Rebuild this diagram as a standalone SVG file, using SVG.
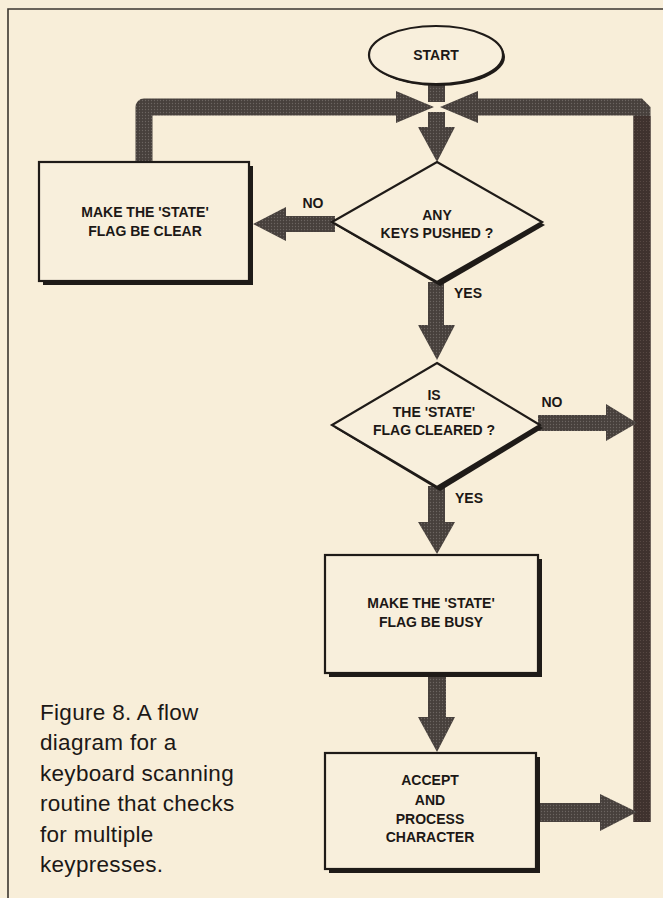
<svg xmlns="http://www.w3.org/2000/svg" width="663" height="898" viewBox="0 0 663 898">
<defs>
<pattern id="ht" width="3" height="3" patternUnits="userSpaceOnUse">
<rect width="3" height="3" fill="#47403c"/>
<circle cx="1.5" cy="1.5" r="0.65" fill="#6c6561"/>
</pattern>
<pattern id="htb" width="3" height="3" patternUnits="userSpaceOnUse">
<rect width="3" height="3" fill="#3f322e"/>
<circle cx="1.5" cy="1.5" r="0.55" fill="#5c4c47"/>
</pattern>
</defs>
<style>
.bg{fill:#f8eed9}
.frame{stroke:#3b3630;stroke-width:1.6;fill:none}
.ar{fill:url(#ht)}
.bar{fill:none;stroke:url(#ht);stroke-width:17}
.barb{fill:none;stroke:url(#htb);stroke-width:17}
.sh{fill:#1f1b18}
.nd{fill:#f8efdc;stroke:#1f1b18;stroke-width:2.2}
.t{font-family:"Liberation Sans",Arial,sans-serif;font-weight:bold;font-size:14px;fill:#1c1816;text-anchor:middle}
.cap{font-family:"Liberation Sans",Arial,sans-serif;font-size:22.5px;letter-spacing:0.3px;fill:#1c1816}
</style>
<rect class="bg" x="0" y="0" width="663" height="898"/>
<g id="frame">
<path class="frame" d="M663,9 H8 V898"/>
</g>
<g id="connectors">
<path class="bar" d="M144,162 V107 H398" stroke-linejoin="round"/>
<polygon class="ar" points="396,91 434,107 396,123"/>
<path class="bar" d="M642,822 V107 H476" stroke-linejoin="bevel"/>
<path class="barb" d="M642,822 V116"/>
<polygon class="ar" points="478,91 440,107 478,123"/>
<rect class="ar" x="428" y="82" width="17" height="20"/>
<rect class="ar" x="428" y="112" width="17" height="17"/>
<polygon class="ar" points="418,127 455,127 437,162"/>
<rect class="ar" x="283" y="216" width="52" height="16"/>
<polygon class="ar" points="286,207 253,224 286,241"/>
<text class="t" x="313" y="208">NO</text>
<rect class="ar" x="428" y="282" width="16" height="45"/>
<polygon class="ar" points="418,325 455,325 437,360"/>
<text class="t" x="468" y="298">YES</text>
<rect class="ar" x="538" y="415" width="70" height="16"/>
<polygon class="ar" points="606,404 637,423 606,441"/>
<text class="t" x="552" y="407">NO</text>
<rect class="ar" x="428" y="486" width="17" height="38"/>
<polygon class="ar" points="418,522 455,522 437,554"/>
<text class="t" x="469" y="503">YES</text>
<rect class="ar" x="428" y="675" width="18" height="44"/>
<polygon class="ar" points="418,717 455,717 437,752"/>
<rect class="ar" x="538" y="803" width="64" height="19"/>
<polygon class="ar" points="600,794 637,812 600,831"/>
</g>
<g id="start">
<ellipse class="sh" cx="438" cy="57" rx="67" ry="29"/>
<ellipse class="nd" cx="436" cy="55" rx="67" ry="29" stroke-width="2.5"/>
<text class="t" x="436" y="60">START</text>
</g>
<g id="clear">
<rect class="sh" x="43" y="166" width="210" height="119"/>
<rect class="nd" x="39" y="162" width="210" height="119"/>
<text class="t" x="145" y="217">MAKE THE 'STATE'</text>
<text class="t" x="145" y="236">FLAG BE CLEAR</text>
</g>
<g id="anykeys">
<polygon class="sh" points="440,165 545,225 440,286 335,225"/>
<polygon class="nd" points="437,162 542,222 437,282 332,222"/>
<text class="t" x="437" y="220">ANY</text>
<text class="t" x="437" y="238">KEYS PUSHED ?</text>
</g>
<g id="cleared">
<polygon class="sh" points="440,366 543,428 440,491 335,428"/>
<polygon class="nd" points="437,363 540,425 437,487 332,425"/>
<text class="t" x="434" y="400">IS</text>
<text class="t" x="434" y="417">THE 'STATE'</text>
<text class="t" x="434" y="435">FLAG CLEARED ?</text>
</g>
<g id="busy">
<rect class="sh" x="329" y="559" width="213" height="118"/>
<rect class="nd" x="325" y="555" width="213" height="118"/>
<text class="t" x="431" y="608">MAKE THE 'STATE'</text>
<text class="t" x="431" y="627">FLAG BE BUSY</text>
</g>
<g id="accept">
<rect class="sh" x="329" y="757" width="211" height="116"/>
<rect class="nd" x="325" y="753" width="211" height="116"/>
<text class="t" x="430" y="785">ACCEPT</text>
<text class="t" x="430" y="805">AND</text>
<text class="t" x="430" y="824">PROCESS</text>
<text class="t" x="430" y="842">CHARACTER</text>
</g>
<g id="caption">
<text class="cap" x="40" y="720">Figure 8. A flow</text>
<text class="cap" x="40" y="750">diagram for a</text>
<text class="cap" x="40" y="781">keyboard scanning</text>
<text class="cap" x="40" y="811">routine that checks</text>
<text class="cap" x="40" y="842">for multiple</text>
<text class="cap" x="40" y="872">keypresses.</text>
</g>
</svg>
